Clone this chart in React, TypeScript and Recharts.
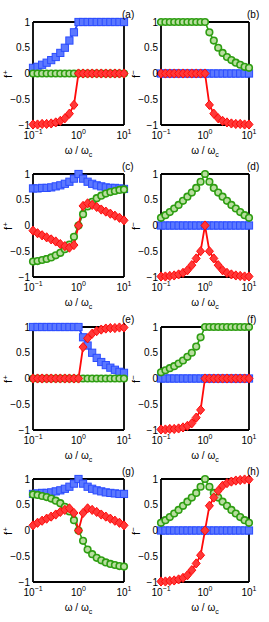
import React from 'react';
import { LineChart, Line, XAxis, YAxis } from 'recharts';

// omega / omega_c sample points (10 per decade)
const OMEGA = [0.1, 0.1259, 0.1585, 0.1995, 0.2512, 0.3162, 0.3981, 0.5012, 0.631, 0.7943, 1, 1.259, 1.585, 1.995, 2.512, 3.162, 3.981, 5.012, 6.31, 7.943, 10];
const X_MAJOR = [0.1, 1, 10];
const X_MINOR = [0.2, 0.3, 0.4, 0.5, 0.6, 0.7, 0.8, 0.9, 2, 3, 4, 5, 6, 7, 8, 9];
const Y_TICKS = [-1, -0.5, 0, 0.5, 1];
const X_EXP: Record<string, string> = { '0.1': '−1', '1': '0', '10': '1' };

const ZERO = [0, 0, 0, 0, 0, 0, 0, 0, 0, 0, 0, 0, 0, 0, 0, 0, 0, 0, 0, 0, 0];

// (a)
const aBlue = [0.11, 0.13, 0.17, 0.21, 0.26, 0.32, 0.4, 0.5, 0.64, 0.8, 1, 1, 1, 1, 1, 1, 1, 1, 1, 1, 1];
const aRed = [-0.99, -0.99, -0.98, -0.98, -0.97, -0.95, -0.92, -0.87, -0.78, -0.61, 0, 0, 0, 0, 0, 0, 0, 0, 0, 0, 0];
// (b)
const bGreen = [1, 1, 1, 1, 1, 1, 1, 1, 1, 1, 1, 0.8, 0.64, 0.5, 0.4, 0.32, 0.26, 0.21, 0.17, 0.13, 0.11];
const bRed = [0, 0, 0, 0, 0, 0, 0, 0, 0, 0, 0, -0.61, -0.78, -0.87, -0.92, -0.95, -0.97, -0.98, -0.98, -0.99, -0.99];
// (c)
const cBlue = [0.72, 0.72, 0.73, 0.73, 0.74, 0.76, 0.78, 0.81, 0.85, 0.91, 1, 0.91, 0.85, 0.81, 0.78, 0.76, 0.74, 0.73, 0.73, 0.72, 0.71];
const cGreen = [-0.7, -0.69, -0.67, -0.65, -0.62, -0.58, -0.53, -0.46, -0.37, -0.22, 0, 0.22, 0.37, 0.46, 0.53, 0.58, 0.62, 0.65, 0.67, 0.69, 0.7];
const cRed = [-0.1, -0.15, -0.19, -0.23, -0.27, -0.31, -0.36, -0.4, -0.43, -0.38, 0, 0.38, 0.43, 0.4, 0.36, 0.31, 0.27, 0.23, 0.19, 0.15, 0.1];
// (d)
const dGreen = [0.15, 0.2, 0.26, 0.33, 0.4, 0.48, 0.56, 0.64, 0.73, 0.85, 1, 0.85, 0.73, 0.64, 0.56, 0.48, 0.4, 0.33, 0.26, 0.2, 0.15];
const dRed = [-0.99, -0.99, -0.98, -0.97, -0.95, -0.92, -0.87, -0.77, -0.64, -0.5, 0, -0.5, -0.64, -0.77, -0.87, -0.92, -0.95, -0.97, -0.98, -0.99, -0.99];
// (e)
const eBlue = [1, 1, 1, 1, 1, 1, 1, 1, 1, 1, 1, 0.8, 0.64, 0.5, 0.4, 0.32, 0.26, 0.21, 0.17, 0.13, 0.11];
const eRed = [0, 0, 0, 0, 0, 0, 0, 0, 0, 0, 0, 0.61, 0.78, 0.87, 0.92, 0.95, 0.97, 0.98, 0.98, 0.99, 0.99];
// (f)
const fGreen = [0.12, 0.16, 0.2, 0.24, 0.29, 0.35, 0.42, 0.5, 0.62, 0.8, 1, 1, 1, 1, 1, 1, 1, 1, 1, 1, 1];
const fRed = [-0.99, -0.99, -0.98, -0.98, -0.97, -0.95, -0.92, -0.87, -0.76, -0.61, 0, 0, 0, 0, 0, 0, 0, 0, 0, 0, 0];
// (g)
const gBlue = [0.71, 0.72, 0.73, 0.73, 0.74, 0.76, 0.78, 0.81, 0.85, 0.91, 1, 0.91, 0.85, 0.81, 0.78, 0.76, 0.74, 0.73, 0.72, 0.71, 0.71];
const gGreen = [0.7, 0.69, 0.67, 0.65, 0.62, 0.58, 0.53, 0.46, 0.37, 0.2, 0, -0.2, -0.37, -0.46, -0.53, -0.58, -0.62, -0.65, -0.67, -0.69, -0.7];
const gRed = [0.1, 0.15, 0.19, 0.23, 0.27, 0.31, 0.36, 0.4, 0.43, 0.34, 0, 0.34, 0.43, 0.4, 0.36, 0.31, 0.27, 0.23, 0.19, 0.15, 0.1];
// (h)
const hGreen = [0.15, 0.2, 0.26, 0.33, 0.4, 0.48, 0.56, 0.64, 0.73, 0.85, 1, 0.85, 0.73, 0.64, 0.56, 0.48, 0.4, 0.33, 0.26, 0.2, 0.15];
const hRed = [-0.99, -0.99, -0.98, -0.97, -0.95, -0.92, -0.87, -0.77, -0.64, -0.48, 0, 0.48, 0.64, 0.77, 0.87, 0.92, 0.95, 0.97, 0.98, 0.99, 0.99];

const PANELS = [
  { tag: '(a)', sign: '+', col: 0, row: 0, blue: aBlue, green: ZERO, red: aRed },
  { tag: '(b)', sign: '−', col: 1, row: 0, blue: ZERO, green: bGreen, red: bRed },
  { tag: '(c)', sign: '+', col: 0, row: 1, blue: cBlue, green: cGreen, red: cRed },
  { tag: '(d)', sign: '−', col: 1, row: 1, blue: ZERO, green: dGreen, red: dRed },
  { tag: '(e)', sign: '+', col: 0, row: 2, blue: eBlue, green: ZERO, red: eRed },
  { tag: '(f)', sign: '−', col: 1, row: 2, blue: ZERO, green: fGreen, red: fRed },
  { tag: '(g)', sign: '+', col: 0, row: 3, blue: gBlue, green: gGreen, red: gRed },
  { tag: '(h)', sign: '−', col: 1, row: 3, blue: ZERO, green: hGreen, red: hRed },
];

const FONT = '"Liberation Sans", Arial, Helvetica, sans-serif';
const COLS = [{ left: 33, width: 91 }, { left: 161, width: 88 }];
const ROWS = [22, 174, 327, 479];
const PLOT_H = 103;
const LAB_W = 33;
const LAB_H = 36;
const PAD = 8;
const PAD_R = 14;

const BLUE = '#2b4cff';
const GREEN = '#2e9e12';
const RED = '#ff0a0a';

const frame = { stroke: '#000', strokeWidth: 1.8 };
const tickStroke = { stroke: '#000', strokeWidth: 1.2 };

const renderXTick = (p: any) => (
  <text x={p.x} y={p.y + 14} textAnchor="middle" fontSize={10} fontFamily={FONT} fill="#000">
    <tspan>10</tspan>
    <tspan dy={-5} fontSize={7}>{X_EXP[String(p.payload.value)]}</tspan>
  </text>
);

const renderYTick = (p: any) => {
  const v = p.payload.value;
  const s = v < 0 ? '−' + Math.abs(v) : String(v);
  return (
    <text x={p.x} y={p.y + 3.5} textAnchor="end" fontSize={10} fontFamily={FONT} fill="#000">
      {s}
    </text>
  );
};

const square = (p: any) => (
  <rect key={`s${p.index}`} x={p.cx - 3.6} y={p.cy - 3.6} width={7.2} height={7.2} fill="#5b78ff" stroke={BLUE} strokeWidth={1} />
);
const circle = (p: any) => (
  <circle key={`c${p.index}`} cx={p.cx} cy={p.cy} r={3.3} fill="#b9dea0" stroke={GREEN} strokeWidth={1.6} />
);
const diamond = (p: any) => (
  <polygon
    key={`d${p.index}`}
    points={`${p.cx},${p.cy - 4.6} ${p.cx + 4},${p.cy} ${p.cx},${p.cy + 4.6} ${p.cx - 4},${p.cy}`}
    fill="#ff3838"
    stroke={RED}
    strokeWidth={1}
  />
);

function Panel({ p }: { p: (typeof PANELS)[number] }) {
  const col = COLS[p.col];
  const top = ROWS[p.row];
  const rows = OMEGA.map((x, i) => ({ x, blue: p.blue[i], green: p.green[i], red: p.red[i] }));
  const xCommon = { dataKey: 'x', type: 'number' as const, scale: 'log' as const, domain: [0.1, 10], interval: 0 as const };
  const yCommon = { type: 'number' as const, domain: [-1, 1], ticks: Y_TICKS, interval: 0 as const };
  return (
    <>
      <div style={{ position: 'absolute', left: col.left - LAB_W, top: top - PAD }}>
        <LineChart
          width={LAB_W + col.width + PAD_R}
          height={PAD + PLOT_H + LAB_H}
          data={rows}
          margin={{ top: PAD, right: PAD_R, bottom: 0, left: 0 }}
        >
          <XAxis xAxisId="x" {...xCommon} ticks={X_MAJOR} height={LAB_H} tickSize={0} tickMargin={0} tickLine={false} axisLine={false} tick={renderXTick} />
          <XAxis xAxisId="bM" {...xCommon} ticks={X_MAJOR} mirror height={1} tick={false} tickSize={4.5} axisLine={frame} tickLine={tickStroke} />
          <XAxis xAxisId="bm" {...xCommon} ticks={X_MINOR} mirror height={1} tick={false} tickSize={2.5} axisLine={false} tickLine={tickStroke} />
          <XAxis xAxisId="tM" {...xCommon} ticks={X_MAJOR} orientation="top" mirror height={1} tick={false} tickSize={4.5} axisLine={frame} tickLine={tickStroke} />
          <XAxis xAxisId="tm" {...xCommon} ticks={X_MINOR} orientation="top" mirror height={1} tick={false} tickSize={2.5} axisLine={false} tickLine={tickStroke} />
          <YAxis yAxisId="y" {...yCommon} width={LAB_W} tickSize={0} tickMargin={3} tickLine={false} axisLine={false} tick={renderYTick} />
          <YAxis yAxisId="l" {...yCommon} mirror width={1} tick={false} tickSize={4.5} axisLine={frame} tickLine={tickStroke} />
          <YAxis yAxisId="r" {...yCommon} orientation="right" mirror width={1} tick={false} tickSize={4.5} axisLine={frame} tickLine={tickStroke} />
          <Line xAxisId="x" yAxisId="y" dataKey="blue" stroke={BLUE} strokeWidth={2} dot={square} activeDot={false} isAnimationActive={false} />
          <Line xAxisId="x" yAxisId="y" dataKey="green" stroke={GREEN} strokeWidth={1.6} dot={circle} activeDot={false} isAnimationActive={false} />
          <Line xAxisId="x" yAxisId="y" dataKey="red" stroke={RED} strokeWidth={1.8} dot={diamond} activeDot={false} isAnimationActive={false} />
        </LineChart>
      </div>
      <div style={{ position: 'absolute', left: col.left + col.width - 2, top: top - 12, fontSize: 10, lineHeight: '10px', fontFamily: FONT }}>
        {p.tag}
      </div>
      <div
        style={{
          position: 'absolute',
          left: col.left - 37,
          top: top + 45,
          width: 20,
          height: 14,
          textAlign: 'center',
          fontSize: 11,
          lineHeight: '14px',
          fontFamily: FONT,
          transform: 'rotate(-90deg)',
        }}
      >
        f<span style={{ fontSize: 8, verticalAlign: 4 }}>{p.sign}</span>
      </div>
      <div
        style={{
          position: 'absolute',
          left: col.left + col.width / 2 - 25,
          top: top + PLOT_H + 21,
          width: 50,
          textAlign: 'center',
          fontSize: 10,
          lineHeight: '10px',
          fontFamily: FONT,
        }}
      >
        ω / ω<span style={{ fontSize: 7, verticalAlign: -3 }}>c</span>
      </div>
    </>
  );
}

export default function App() {
  return (
    <div style={{ position: 'absolute', left: 0, top: 0, width: 269, height: 622, background: '#fff', overflow: 'hidden' }}>
      {PANELS.map((p) => (
        <Panel key={p.tag} p={p} />
      ))}
    </div>
  );
}
